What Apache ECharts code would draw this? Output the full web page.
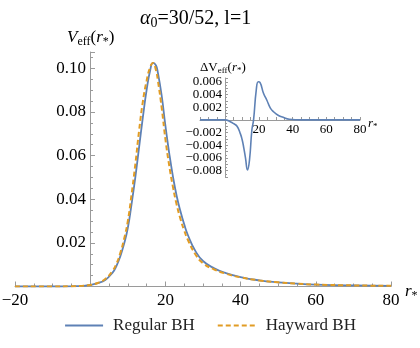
<!DOCTYPE html>
<html>
<head>
<meta charset="UTF-8">
<title>Veff regular vs Hayward</title>
<script src="https://cdn.jsdelivr.net/npm/echarts@6/dist/echarts.min.js"></script>
<style>
	html, body { margin:0; padding:0; background:#fff; }
	#chart { width:420px; height:348px; }
</style>
</head>
<body>
<div id="chart"></div>
<script>
// data: [r*, V]
var regularBH = [
	[-20,0.0000],[-10,0.0000],[-5,0.0001],[-2,0.0003],[0,0.0007],[2,0.0015],[4,0.0030],
	[6,0.0065],[7,0.0095],[8,0.0138],[9,0.0195],[10,0.0268],[11,0.0378],[12,0.0500],
	[13,0.0638],[14,0.0775],[15,0.0900],[16,0.0995],[16.7,0.1025],[17.5,0.1013],[18,0.0980],
	[19,0.0876],[20,0.0737],[21,0.0613],[22,0.0505],[23,0.0415],[24,0.0345],[25,0.0285],
	[26,0.0235],[28,0.0162],[30,0.0117],[33,0.0083],[36,0.0062],[40,0.0043],[45,0.0028],
	[50,0.0019],[55,0.0013],[60,0.0009],[70,0.0005],[80,0.0003]
];
var haywardBH = [
	[-20,0.0000],[-10,0.0000],[-5,0.0001],[-2,0.0003],[0,0.0007],[2,0.0016],[4,0.0034],
	[6,0.0073],[7,0.0105],[8,0.0153],[9,0.0217],[10,0.0299],[11,0.0422],[12,0.0560],
	[13,0.0714],[14,0.0847],[15,0.0943],[16,0.1008],[16.7,0.1025],[17.5,0.0991],[18,0.0944],
	[19,0.0821],[20,0.0676],[21,0.0556],[22,0.0457],[23,0.0375],[24,0.0310],[25,0.0257],
	[26,0.0213],[28,0.0147],[30,0.0107],[33,0.0078],[36,0.0059],[40,0.0042],[45,0.0028],
	[50,0.0019],[55,0.0013],[60,0.0009],[70,0.0005],[80,0.0003]
];
// inset: difference
var deltaV = [
	[-15,0],[-5,0],[0,0],[3,-0.0003],[5,-0.0006],[7,-0.0010],[9,-0.0022],[10,-0.0031],
	[11,-0.0044],[12,-0.0060],[13.2,-0.0079],[14.4,-0.0063],[15.8,-0.0016],[16.8,0],
	[18.4,0.0047],[19.6,0.0060],[20.6,0.0059],[22.7,0.0042],[24.7,0.0031],[26.7,0.0019],
	[28.6,0.0013],[31.6,0.0007],[34.4,0.0004],[38,0.0001],[45,0],[80,0]
];
var mainXLabels = [-20, 20, 40, 60, 80];
var mainYLabels = [0.02, 0.04, 0.06, 0.08, 0.10];
var insetXLabels = [20, 40, 60, 80];
var insetYLabels = [-0.008, -0.006, -0.004, -0.002, 0.002, 0.004, 0.006];
var seriesNames = ['Regular BH', 'Hayward BH'];

var serif = 'Liberation Serif';
var gray = '#9a9a9a';
var blue = '#5E81B5';
var orange = '#E19C24';

function pick(list, digits){
	return function(v){
		for (var i = 0; i < list.length; i++) {
			if (Math.abs(list[i] - v) < 1e-9) {
				return (list[i] < 0 ? '\u2212' : '') + Math.abs(list[i]).toFixed(digits);
			}
		}
		return '';
	};
}

function axisBase(){
	return {
		type: 'value',
		splitLine: { show: false },
		axisLine: { onZero: false, lineStyle: { color: gray, width: 1 } },
		axisTick: { inside: true, length: 5, lineStyle: { color: gray } },
		minorTick: { show: true, splitNumber: 4, length: 3, lineStyle: { color: gray } }
	};
}

var chart = echarts.init(document.getElementById('chart'));

// main plot: x=0 sits 75px right of the grid edge
var mainX = axisBase();
mainX.gridIndex = 0; mainX.min = -20; mainX.max = 80; mainX.interval = 20;
mainX.axisLabel = { formatter: pick(mainXLabels, 0), fontFamily: serif, fontSize: 17, color: '#000', margin: 6 };

var mainY = axisBase();
mainY.gridIndex = 0; mainY.min = 0; mainY.max = 0.1075; mainY.interval = 0.02; mainY.offset = -75;
mainY.axisLabel = { formatter: pick(mainYLabels, 2), fontFamily: serif, fontSize: 17, color: '#000', margin: 4 };

// inset: axes cross at (0,0)
var insX = axisBase();
insX.gridIndex = 1; insX.min = -15; insX.max = 80; insX.interval = 5; insX.offset = -57;
insX.axisTick = { inside: true, length: 3, lineStyle: { color: gray } };
insX.minorTick = { show: false };
insX.axisLabel = { formatter: pick(insetXLabels, 0), fontFamily: serif, fontSize: 13, color: '#000', margin: 3 };

var insY = axisBase();
insY.gridIndex = 1; insY.min = -0.009; insY.max = 0.0066; insY.interval = 0.001; insY.offset = -25;
insY.axisTick = { inside: true, length: 3, lineStyle: { color: gray } };
insY.minorTick = { show: true, splitNumber: 2, length: 2, lineStyle: { color: gray } };
insY.axisLabel = { formatter: pick(insetYLabels, 3), fontFamily: serif, fontSize: 13, color: '#000', margin: 3 };

function rich(size){
	return {
		n: { fontFamily: serif, fontWeight: 'normal', fontSize: size, color: '#000', lineHeight: size + 4 },
		i: { fontFamily: serif, fontWeight: 'normal', fontStyle: 'italic', fontSize: size, color: '#000', lineHeight: size + 4 },
		s: { fontFamily: serif, fontWeight: 'normal', fontSize: Math.round(size * 0.68), color: '#000', padding: [Math.round(size * 0.45), 0, 0, 0] }
	};
}

function label(text, size, left, top){
	return { text: text, left: left, top: top, padding: 0, textStyle: { fontWeight: 'normal', rich: rich(size) } };
}

var option = {
	animation: false,
	backgroundColor: '#fff',
	title: [
		label('{i|\u03b1}{s|0}{n|=30/52, l=1}', 20, 140, 7),
		label('{i|V}{s|eff}{n|(}{i|r}{s|*}{n|)}', 17, 67, 27),
		label('{i|r}{s|*}', 17, 405, 281),
		label('{n|\u0394V}{s|eff}{n|(}{i|r}{s|*}{n|)}', 13, 200, 59),
		label('{i|r}{s|*}', 13, 368, 115)
	],
	legend: {
		data: seriesNames,
		left: 'center',
		bottom: 9,
		itemWidth: 38,
		itemHeight: 12,
		itemGap: 22,
		itemStyle: { color: 'transparent', borderWidth: 0, opacity: 0 },
		textStyle: { fontFamily: serif, fontSize: 17, color: '#222', padding: [0, 0, 0, 5] }
	},
	grid: [
		{ left: 15, right: 29, top: 52, bottom: 61.5, outerBoundsMode: 'none' },
		{ left: 200, right: 60, top: 78, bottom: 171, outerBoundsMode: 'none' }
	],
	xAxis: [mainX, insX],
	yAxis: [mainY, insY],
	series: [
		{
			name: seriesNames[0], type: 'line', xAxisIndex: 0, yAxisIndex: 0,
			data: regularBH, smooth: true, symbol: 'none',
			lineStyle: { color: blue, width: 1.8 }, itemStyle: { color: blue }
		},
		{
			name: seriesNames[1], type: 'line', xAxisIndex: 0, yAxisIndex: 0,
			data: haywardBH, smooth: true, symbol: 'none',
			lineStyle: { color: orange, width: 2, type: [5, 3] }, itemStyle: { color: orange }
		},
		{
			name: 'delta', type: 'line', xAxisIndex: 1, yAxisIndex: 1,
			data: deltaV, smooth: true, symbol: 'none',
			lineStyle: { color: blue, width: 1.6 }, itemStyle: { color: blue }
		}
	]
};
chart.setOption(option);
</script>
</body>
</html>
